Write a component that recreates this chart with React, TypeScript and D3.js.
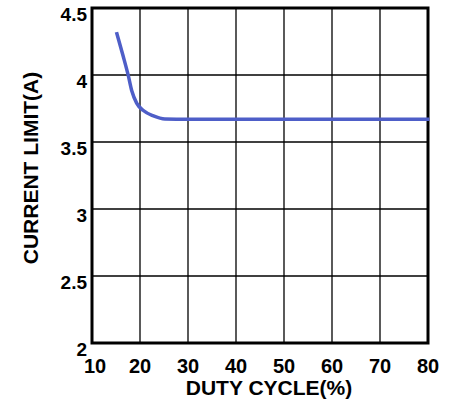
import React from "react";
import * as d3 from "d3";

const dutyCycle = [15.1, 16.5, 17.6, 18.3, 19.3, 20.7, 22.8, 25.2, 30, 40, 50, 60, 70, 80.3];
const currentLimit = [4.32, 4.14, 3.99, 3.88, 3.79, 3.735, 3.695, 3.672, 3.67, 3.67, 3.67, 3.67, 3.67, 3.67];
const xTicks = [10, 20, 30, 40, 50, 60, 70, 80];
const yTicks = [2, 2.5, 3, 3.5, 4, 4.5];
const xTitle = "DUTY CYCLE(%)";
const yTitle = "CURRENT LIMIT(A)";

export default function App() {
  const W = 453, H = 410;
  const left = 92, right = 428, top = 8, bottom = 343;
  const x = d3.scaleLinear().domain([10, 80]).range([left, right]);
  const y = d3.scaleLinear().domain([2, 4.5]).range([bottom, top]);
  const pts = dutyCycle.map((d, i) => [d, currentLimit[i]] as [number, number]);
  const line = d3.line<[number, number]>().x(d => x(d[0])).y(d => y(d[1])).curve(d3.curveMonotoneX);
  const font = "'Liberation Sans', Arial, sans-serif";
  return (
    <svg width={W} height={H} style={{ position: "absolute", left: 0, top: 0, background: "#fff" }} fontFamily={font}>
      {xTicks.slice(1, -1).map(t => (
        <line key={"xg" + t} x1={x(t)} x2={x(t)} y1={top} y2={bottom} stroke="#000" strokeWidth={1.3} />
      ))}
      {yTicks.slice(1, -1).map(t => (
        <line key={"yg" + t} x1={left} x2={right} y1={y(t)} y2={y(t)} stroke="#000" strokeWidth={1.3} />
      ))}
      <rect x={left} y={top} width={right - left} height={bottom - top} fill="none" stroke="#000" strokeWidth={3} />
      <path d={line(pts) || ""} fill="none" stroke="#4e5ec8" strokeWidth={3.5} />
      {xTicks.map(t => (
        <text key={"xt" + t} x={x(t) + (t === 10 ? 3 : 0)} y={373} textAnchor="middle" fontSize={20} fontWeight="bold">{t}</text>
      ))}
      {yTicks.map(t => (
        <text key={"yt" + t} x={87} y={y(t) + 13} textAnchor="end" fontSize={19} fontWeight="bold">{t}</text>
      ))}
      <text x={269} y={395} textAnchor="middle" fontSize={21} fontWeight="bold">{xTitle}</text>
      <text transform={`translate(38,168) rotate(-90)`} textAnchor="middle" fontSize={21} fontWeight="bold">{yTitle}</text>
    </svg>
  );
}
